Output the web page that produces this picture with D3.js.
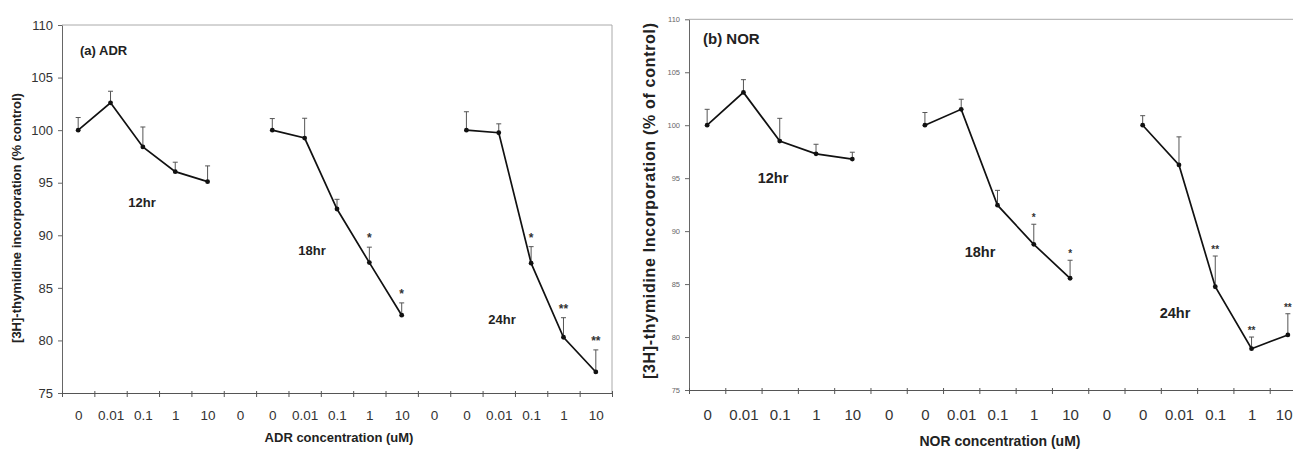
<!DOCTYPE html>
<html>
<head>
<meta charset="utf-8">
<script src="https://cdn.jsdelivr.net/npm/d3@7"></script>
<style>
  body { margin: 0; background: #fff; }
  svg { display: block; font-family: Arial, "Liberation Sans", sans-serif; }
</style>
</head>
<body>
<script>
const width = 1293;
const height = 449;

// x categories (same for both panels, three time groups separated by a gap "0")
const concLabels = ['0','0.01','0.1','1','10','0','0','0.01','0.1','1','10','0','0','0.01','0.1','1','10'];
const groupStart = [0, 6, 12];
const groupNames = ['12hr', '18hr', '24hr'];
const yTicks = [75, 80, 85, 90, 95, 100, 105, 110];

// (a) ADR
const adr12 = [100, 102.6, 98.4, 96.05, 95.1];
const adr12Err = [1.2, 1.1, 1.9, 0.9, 1.5];
const adr18 = [100, 99.25, 92.5, 87.4, 82.4];
const adr18Err = [1.1, 1.88, 0.92, 1.47, 1.17];
const adr24 = [100, 99.75, 87.35, 80.3, 77.0];
const adr24Err = [1.75, 0.85, 1.57, 1.86, 2.1];
const adrStars = [['','','','',''], ['','','','*','*'], ['','','*','**','**']];

// (b) NOR
const nor12 = [100, 103.1, 98.5, 97.3, 96.8];
const nor12Err = [1.5, 1.2, 2.15, 0.9, 0.65];
const nor18 = [100, 101.5, 92.45, 88.75, 85.55];
const nor18Err = [1.2, 0.95, 1.4, 1.9, 1.7];
const nor24 = [100, 96.25, 84.75, 78.9, 80.2];
const nor24Err = [0.9, 2.65, 2.9, 1.1, 2.0];
const norStars = [['','','','',''], ['','','','*','*'], ['','','**','**','**']];

const svg = d3.select('body').append('svg').attr('width', width).attr('height', height);

drawPanel({
  left: 62, right: 612, top: 25, bottom: 393,
  series: [adr12, adr18, adr24], errs: [adr12Err, adr18Err, adr24Err], stars: adrStars,
  title: '(a) ADR', titleX: 80, titleY: 55, titleSize: 13,
  groupLabelPos: [[142, 207], [312, 255], [502, 324]], groupSize: 13,
  xTitle: 'ADR concentration (uM)', xTitleX: 339, xTitleY: 442, xTitleSize: 13, xTitleWeight: 'bold',
  yTitle: '[3H]-thymidine incorporation (% control)', yTitleX: 21, yTitleY: 218, yTitleSize: 13, yTitleWeight: 'bold', yTitleLen: null,
  xLabelSize: 13.5, xLabelPad: 17, yLabelSize: 13, yLabelColor: '#333',
  starSize: 12, starOff: 5
});

drawPanel({
  left: 689, right: 1306, top: 19.3, bottom: 390,
  series: [nor12, nor18, nor24], errs: [nor12Err, nor18Err, nor24Err], stars: norStars,
  title: '(b) NOR', titleX: 703, titleY: 44, titleSize: 15,
  groupLabelPos: [[773, 183], [980, 257], [1175, 318]], groupSize: 14.5,
  xTitle: 'NOR concentration (uM)', xTitleX: 1000, xTitleY: 446, xTitleSize: 14, xTitleWeight: 'bold',
  yTitle: '[3H]-thymidine Incorporation (% of control)', yTitleX: 655, yTitleY: 201, yTitleSize: 16, yTitleWeight: 'bold', yTitleLen: 356,
  xLabelSize: 15, xLabelPad: 19, yLabelSize: 7.5, yLabelColor: '#666',
  starSize: 10, starOff: 3
});


function drawPanel(p) {
  const g = svg.append('g');

  const x = d3.scaleLinear().domain([0, concLabels.length]).range([p.left, p.right]);
  const y = d3.scaleLinear().domain([75, 110]).range([p.bottom, p.top]);

  // frame (top and right)
  g.append('path')
    .attr('d', `M${p.left},${p.top}H${p.right}V${p.bottom}`)
    .style('fill', 'none')
    .style('stroke', '#aaa')
    .style('stroke-width', 1);

  // y axis
  const yaxis = g.append('g')
    .attr('transform', `translate(${p.left},0)`)
    .call(d3.axisLeft(y).tickValues(yTicks).tickSize(4).tickPadding(5).tickSizeOuter(0));
  yaxis.select('.domain').style('stroke', '#666');
  yaxis.selectAll('line').style('stroke', '#666');
  yaxis.selectAll('text')
    .style('font-size', p.yLabelSize + 'px')
    .style('fill', p.yLabelColor);

  // x axis: ticks between categories
  const xaxis = g.append('g')
    .attr('transform', `translate(0,${p.bottom})`)
    .call(d3.axisBottom(x).tickValues(d3.range(0, concLabels.length + 1)).tickFormat('').tickSize(4).tickSizeOuter(0));
  xaxis.select('.domain').style('stroke', '#555');
  xaxis.selectAll('line').style('stroke', '#555').attr('y1', -2);

  // x labels at category centers
  const xlab = g.append('g')
    .attr('transform', `translate(0,${p.bottom})`)
    .call(d3.axisBottom(x)
      .tickValues(d3.range(concLabels.length).map(i => i + 0.5))
      .tickFormat(d => concLabels[d - 0.5])
      .tickSize(0).tickPadding(p.xLabelPad));
  xlab.select('.domain').remove();
  xlab.selectAll('text')
    .style('font-size', p.xLabelSize + 'px')
    .style('fill', '#333');
  // keep the last label inside the picture when the plot runs past the edge
  xlab.selectAll('.tick').filter(d => x(d) + 10 > width)
    .select('text')
    .attr('text-anchor', 'end')
    .attr('dx', d => (width - 1 - x(d)) + 'px');

  const line = d3.line()
    .x(d => x(d.i + 0.5))
    .y(d => y(d.v));

  p.series.forEach(function(vals, k) {
    const pts = vals.map(function(v, j) {
      return {i: groupStart[k] + j, v: v, e: p.errs[k][j], s: p.stars[k][j]};
    });

    // error bars (upper only)
    const eb = g.append('g');
    eb.selectAll('line.err')
      .data(pts)
      .enter()
      .append('line')
      .attr('x1', d => x(d.i + 0.5))
      .attr('x2', d => x(d.i + 0.5))
      .attr('y1', d => y(d.v))
      .attr('y2', d => y(d.v + d.e))
      .style('stroke', '#555')
      .style('stroke-width', 1);
    eb.selectAll('line.cap')
      .data(pts)
      .enter()
      .append('line')
      .attr('x1', d => x(d.i + 0.5) - 2.5)
      .attr('x2', d => x(d.i + 0.5) + 2.5)
      .attr('y1', d => y(d.v + d.e))
      .attr('y2', d => y(d.v + d.e))
      .style('stroke', '#555')
      .style('stroke-width', 1);

    g.append('path')
      .datum(pts)
      .attr('d', line)
      .style('fill', 'none')
      .style('stroke', '#111')
      .style('stroke-width', 1.7);

    g.selectAll(null)
      .data(pts)
      .enter()
      .append('circle')
      .attr('cx', d => x(d.i + 0.5))
      .attr('cy', d => y(d.v))
      .attr('r', 2.4)
      .style('fill', '#111');

    g.selectAll(null)
      .data(pts.filter(d => d.s))
      .enter()
      .append('text')
      .attr('x', d => x(d.i + 0.5))
      .attr('y', d => y(d.v + d.e) - p.starOff)
      .attr('text-anchor', 'middle')
      .style('font-size', p.starSize + 'px')
      .style('font-weight', 'bold')
      .style('fill', '#333')
      .text(d => d.s);

    g.append('text')
      .attr('x', p.groupLabelPos[k][0])
      .attr('y', p.groupLabelPos[k][1])
      .attr('text-anchor', 'middle')
      .style('font-size', p.groupSize + 'px')
      .style('font-weight', 'bold')
      .style('fill', '#222')
      .text(groupNames[k]);
  });

  g.append('text')
    .attr('x', p.titleX)
    .attr('y', p.titleY)
    .style('font-size', p.titleSize + 'px')
    .style('font-weight', 'bold')
    .style('fill', '#222')
    .text(p.title);

  g.append('text')
    .attr('x', p.xTitleX)
    .attr('y', p.xTitleY)
    .attr('text-anchor', 'middle')
    .style('font-size', p.xTitleSize + 'px')
    .style('font-weight', p.xTitleWeight)
    .style('fill', '#222')
    .text(p.xTitle);

  const yt = g.append('text')
    .attr('transform', `translate(${p.yTitleX},${p.yTitleY}) rotate(-90)`)
    .attr('text-anchor', 'middle')
    .style('font-size', p.yTitleSize + 'px')
    .style('font-weight', p.yTitleWeight)
    .style('fill', '#222')
    .text(p.yTitle);
  if (p.yTitleLen) yt.attr('textLength', p.yTitleLen).attr('lengthAdjust', 'spacing');
}
</script>
</body>
</html>
